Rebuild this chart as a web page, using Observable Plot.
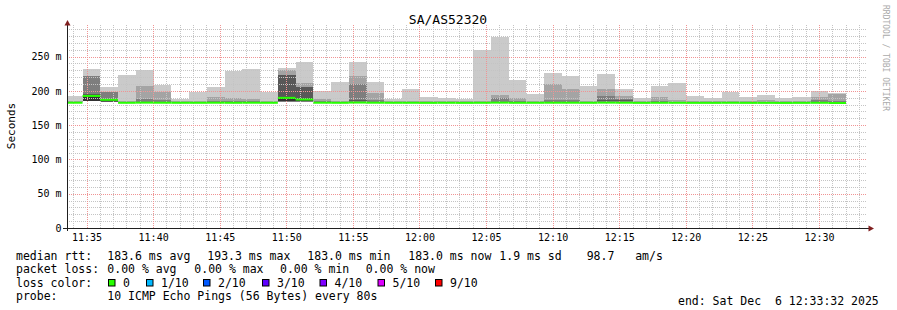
<!DOCTYPE html>
<html><head><meta charset="utf-8">
<script src="https://cdn.jsdelivr.net/npm/d3@7"></script>
<script src="https://cdn.jsdelivr.net/npm/@observablehq/plot@0.6"></script>
<style>body{margin:0;background:#fff}svg{display:block}</style>
</head><body><div id="chart"></div>
<script>
// ---- data ----
const title = "SA/AS52320";
const yLabel = "Seconds";
const rangeStart = "2025-12-06T11:33:32Z";
const rangeEnd = "2025-12-06T12:33:32Z";
const firstBinStart = "2025-12-06T11:33:22Z";
const stepSeconds = 80;
const yTicks = [0, 50, 100, 150, 200, 250];
const xTickLabels = ["11:35","11:40","11:45","11:50","11:55","12:00","12:05","12:10","12:15","12:20","12:25","12:30"];

// sorted pings per 80 s step (ms), min .. max
const pingMin = [183.0,184.5,183.6,183.0,183.2,183.2,183.0,183.0,183.0,183.0,
 183.0,183.0,183.6,183.8,183.0,183.0,183.2,183.2,183.0,183.0,
 183.0,183.0,183.0,183.0,183.2,183.0,183.0,183.0,183.0,183.0,
 183.2,183.2,183.0,183.0,183.0,183.0,183.0,183.0,183.0,183.0,
 183.0,183.0,183.0,183.0];
const ping2 = [183.2,184.8,183.8,183.2,183.5,183.5,183.2,183.2,183.2,183.2,
 183.2,183.2,183.8,184.0,183.2,183.2,183.5,183.5,183.2,183.2,
 183.2,183.2,183.2,183.2,183.5,183.2,183.2,183.2,183.2,183.2,
 183.5,183.5,183.2,183.2,183.2,183.2,183.2,183.2,183.2,183.2,
 183.2,183.2,183.2,183.2];
const ping3 = [183.4,185.0,184.0,183.4,184.0,184.0,183.4,183.4,183.4,183.4,
 183.4,183.4,184.0,184.2,183.4,183.4,184.0,184.0,183.4,183.4,
 183.4,183.4,183.4,183.4,184.0,183.4,183.4,183.4,183.4,183.4,
 184.0,184.0,183.4,183.4,183.4,183.4,183.4,183.4,183.4,183.4,
 183.4,183.4,183.4,183.4];
const ping4 = [183.5,185.2,184.4,183.5,184.5,184.5,183.5,183.5,183.5,183.5,
 183.5,183.5,184.5,184.5,183.5,183.5,184.5,184.5,183.5,183.5,
 183.5,183.5,183.5,183.5,184.5,183.5,183.5,183.5,183.5,183.5,
 184.5,184.5,183.5,183.5,183.5,183.5,183.5,183.5,183.5,183.5,
 183.5,183.5,183.5,183.5];
const ping5 = [183.6,185.5,184.8,183.6,184.8,184.8,183.6,183.6,183.6,183.6,
 183.6,183.6,185.0,185.0,183.6,183.6,184.8,184.8,183.6,183.6,
 183.6,183.6,183.6,183.6,184.8,183.6,183.6,183.6,183.6,183.6,
 184.8,184.8,183.6,183.6,183.6,183.6,183.6,183.6,183.6,183.6,
 183.6,183.6,183.6,183.6];
const ping6 = [183.8,194.5,188.0,183.8,185.2,185.2,183.8,183.8,183.8,183.8,
 183.8,183.8,191.0,188.5,183.8,183.8,185.2,185.2,183.8,183.8,
 183.8,183.8,183.8,183.8,185.2,183.8,183.8,183.8,183.8,183.8,
 185.2,185.2,183.8,183.8,183.8,183.8,183.8,183.8,183.8,183.8,
 183.8,183.8,183.8,183.8];
const ping7 = [184.0,196.0,188.5,184.0,185.6,185.6,184.0,184.0,184.0,184.0,
 184.0,184.0,223.4,205.4,184.0,184.0,187.0,185.6,184.0,184.0,
 184.0,184.0,184.0,184.0,185.6,184.0,184.0,184.0,184.0,184.0,
 187.0,187.0,184.0,184.0,184.0,184.0,184.0,184.0,184.0,184.0,
 184.0,184.0,184.0,184.0];
const ping8 = [184.3,221.0,198.0,184.3,188.5,187.0,184.3,184.3,184.6,184.6,
 184.6,184.3,223.5,205.5,184.6,184.3,210.4,187.0,184.3,184.3,
 184.3,184.3,184.3,184.3,190.0,184.6,184.3,186.0,186.5,184.3,
 193.0,188.5,184.3,184.6,184.3,184.3,184.3,184.3,184.3,184.3,
 184.3,184.3,186.0,185.6];
const ping9 = [184.8,221.5,198.5,184.8,207.4,197.7,184.6,184.8,191.0,190.0,
 188.5,184.8,229.8,211.4,188.0,185.0,222.3,196.5,184.6,184.8,
 184.6,184.6,184.6,184.8,194.4,189.0,184.8,210.4,202.8,185.0,
 203.0,192.9,184.6,191.4,186.0,184.6,184.6,184.8,184.6,186.0,
 184.6,184.6,191.4,195.8];
const pingMax = [191.8,232.0,205.5,223.5,230.0,209.0,188.5,197.8,206.0,228.5,
 232.3,197.8,233.8,242.5,199.2,213.5,242.5,212.3,188.5,202.8,
 191.4,189.7,188.5,260.0,277.8,216.2,195.9,226.7,222.3,207.5,
 225.0,203.0,190.0,207.5,212.0,193.0,189.0,197.8,191.4,194.4,
 190.0,191.4,199.2,197.4];
const median = [183.4,193.3,187.6,183.3,183.5,183.4,183.3,183.3,183.4,183.3,
 183.4,183.3,190.5,188.0,183.4,183.3,183.6,183.4,183.3,183.3,
 183.2,183.3,183.2,183.3,183.5,183.3,183.3,183.4,183.4,183.3,
 183.5,183.4,183.2,183.3,183.3,183.2,183.2,183.3,183.2,183.2,
 183.1,183.2,183.3,183.0];

const rttLabel = "median rtt:";
const rttStats = ["183.6 ms avg","193.3 ms max","183.0 ms min","183.0 ms now","1.9 ms sd","98.7   am/s"];
const lossLabel = "packet loss:";
const lossStats = ["0.00 % avg","0.00 % max","0.00 % min","0.00 % now"];
const lossColorLabel = "loss color:";
const lossLevels = ["0","1/10","2/10","3/10","4/10","5/10","9/10"];
const lossColors = ["#26ff00","#00b8ff","#0059ff","#5e00ff","#7e00ff","#dd00ff","#ff0000"];
const probeLabel = "probe:";
const probeText = "10 ICMP Echo Pings (56 Bytes) every 80s";
const endText = "end: Sat Dec  6 12:33:32 2025";
const watermark = "RRDTOOL / TOBI OETIKER";

// ---- build ----
const t0 = new Date(firstBinStart);
const bins = pingMax.map((_, i) => ({
  start: new Date(+t0 + i * stepSeconds * 1000),
  end: new Date(+t0 + (i + 1) * stepSeconds * 1000),
  p: [pingMin[i], ping2[i], ping3[i], ping4[i], ping5[i], ping6[i], ping7[i], ping8[i], ping9[i], pingMax[i]],
  median: median[i]
}));
const domain = [new Date(rangeStart), new Date(rangeEnd)];
const smokeGreys = ["#cacaca", "#a4a4a4", "#7e7e7e", "#585858", "#323232"];
const smokeMarks = smokeGreys.map((c, j) => Plot.rectY(bins, {
  x1: "start", x2: "end", y1: d => d.p[j], y2: d => d.p[9 - j],
  fill: c, clip: true, shapeRendering: "crispEdges"
}));
const yMinor = d3.range(10, 300, 10).filter(v => v % 50 !== 0);
const yMajor = yTicks.filter(v => v > 0);
const minutes = d3.utcMinute.range(domain[0], domain[1]);
const xMinor = minutes.filter(d => d.getUTCMinutes() % 5 !== 0);
const xMajor = minutes.filter(d => d.getUTCMinutes() % 5 === 0);
const xTickDates = xTickLabels.map(s => {
  const [h, m] = s.split(":").map(Number);
  return new Date(Date.UTC(2025, 11, 6, h, m));
});
const gridStyle = {strokeDasharray: "1,1", shapeRendering: "crispEdges", strokeWidth: 1};

const svgEl = Plot.plot({
  width: 897, height: 310,
  marginLeft: 67, marginRight: 31, marginTop: 25, marginBottom: 82,
  x: {type: "utc", domain},
  y: {domain: [0, 296]},
  style: {background: "#fff", fontFamily: "DejaVu Sans Mono", fontSize: "10px", color: "#000"},
  marks: [
    ...smokeMarks,
    Plot.ruleY(yMinor, {...gridStyle, stroke: "#c4c4c4"}),
    Plot.ruleX(xMinor, {...gridStyle, stroke: "#c4c4c4"}),
    Plot.ruleY(yMajor, {...gridStyle, stroke: "#f09494"}),
    Plot.ruleX(xMajor, {...gridStyle, stroke: "#f09494"}),
    Plot.ruleY(bins, {y: "median", x1: "start", x2: "end", stroke: lossColors[0], strokeWidth: 2, clip: true}),
    Plot.axisY(yTicks, {tickSize: 0, tickPadding: 6, label: null, fontSize: 10,
      tickFormat: d => d === 0 ? "0" : d + " m"}),
    Plot.axisX(xTickDates, {tickSize: 0, tickPadding: 5, label: null, fontSize: 10,
      tickFormat: d3.utcFormat("%H:%M")})
  ]
});
document.getElementById("chart").appendChild(svgEl);

// ---- rrdtool style decorations and legend ----
const svg = d3.select(svgEl);
const deco = svg.append("g");
deco.append("line").attr("x1", 67.5).attr("x2", 67.5).attr("y1", 231).attr("y2", 25)
  .attr("stroke", "#1f1f1f").attr("stroke-width", 1);
deco.append("line").attr("x1", 63).attr("x2", 869).attr("y1", 228.5).attr("y2", 228.5)
  .attr("stroke", "#1f1f1f").attr("stroke-width", 1);
deco.append("path").attr("d", "M64.5,25.5L67.5,20L70.5,25.5Z").attr("fill", "#801f1f");
deco.append("path").attr("d", "M868.5,225.5L874,228.5L868.5,231.5Z").attr("fill", "#801f1f");

const txt = svg.append("g").attr("font-family", "DejaVu Sans Mono").attr("fill", "#000")
  .attr("text-anchor", "start");
function put(x, y, s, size, attrs = {}) {
  const t = txt.append("text").attr("x", x).attr("y", y).attr("font-size", size)
    .attr("text-anchor", "start")
    .attr("xml:space", "preserve").style("white-space", "pre").text(s);
  for (const k in attrs) t.attr(k, attrs[k]);
  return t;
}
put(448, 24, title, 13, {"text-anchor": "middle"});
put(15, 126, yLabel, 11, {"text-anchor": "middle", transform: "rotate(-90 15 126)"});
put(883, 5, watermark, 8, {fill: "#aaaaaa", transform: "rotate(90 883 5)"});

const fs = 11.5;
const row = [259.5, 273, 287, 300];
put(16, row[0], rttLabel, fs);
[107.3, 207.3, 307.3, 408.3, 499.3, 586.7].forEach((x, i) => put(x, row[0], rttStats[i], fs));
put(16, row[1], lossLabel, fs);
[107.3, 194.3, 280, 365.7].forEach((x, i) => put(x, row[1], lossStats[i], fs));
put(16, row[2], lossColorLabel, fs);
[108, 146, 203, 262, 319.5, 377.5, 435].forEach((x, i) => {
  txt.append("rect").attr("x", x + 0.5).attr("y", 279.5).attr("width", 6.5).attr("height", 6.5)
    .attr("fill", lossColors[i]).attr("stroke", "#000").attr("stroke-width", 1);
  put(x + 15, row[2], lossLevels[i], fs);
});
put(16, row[3], probeLabel, fs);
put(107.3, row[3], probeText, fs);
put(678, 304.5, endText, fs);
</script>
</body></html>
